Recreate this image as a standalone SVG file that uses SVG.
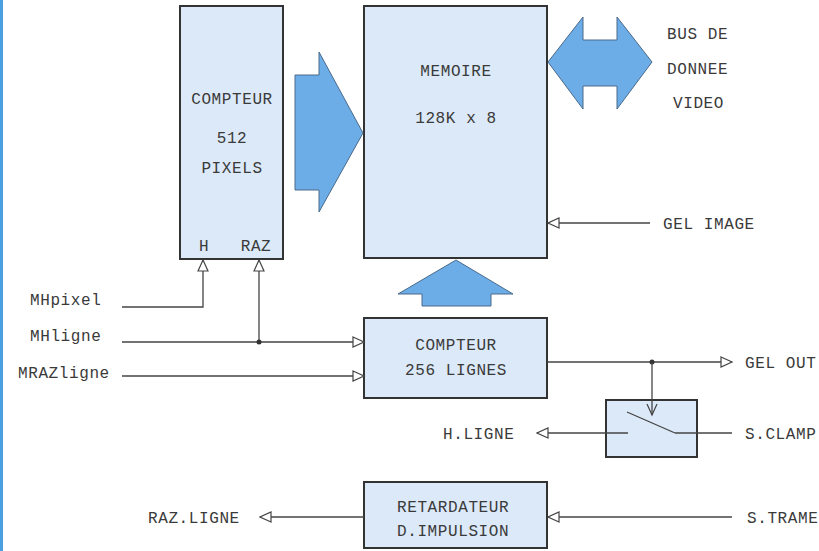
<svg xmlns="http://www.w3.org/2000/svg" width="819" height="551" viewBox="0 0 819 551">
<style>
.box{fill:#dce9f8;stroke:#333;stroke-width:2}
.big{fill:#6cade8;stroke:#4a6a8a;stroke-width:1}
.w{fill:none;stroke:#444;stroke-width:1.3}
text{font-family:"Liberation Mono","DejaVu Sans Mono",monospace;font-size:16px;fill:#3a3a3a;letter-spacing:0.6px}
.m{text-anchor:middle}
</style>
<defs>
<marker id="tri" markerUnits="userSpaceOnUse" markerWidth="14" markerHeight="12" viewBox="-1 -1 13 12" refX="11" refY="5" orient="auto">
<path d="M0,0 L11,5 L0,10 z" fill="#fff" stroke="#444" stroke-width="1.2"/>
</marker>
<marker id="vee" markerUnits="userSpaceOnUse" markerWidth="14" markerHeight="12" viewBox="-1 -1 13 12" refX="11" refY="5" orient="auto">
<path d="M0,0 L11,5 L0,10" fill="none" stroke="#444" stroke-width="1.2"/>
</marker>
</defs>
<rect x="0" y="0" width="3" height="551" fill="#4aa0e0"/>
<g id="compteur512">
<rect class="box" x="180" y="6" width="103" height="253"/>
<text class="m" x="232" y="104">COMPTEUR</text>
<text class="m" x="232" y="143">512</text>
<text class="m" x="232" y="173">PIXELS</text>
<text class="m" x="204" y="251">H</text>
<text class="m" x="256" y="251">RAZ</text>
</g>
<g id="memoire">
<rect class="box" x="364" y="6" width="183" height="252"/>
<text class="m" x="456" y="76">MEMOIRE</text>
<text class="m" x="456" y="123">128K x 8</text>
</g>
<g id="compteur256">
<rect class="box" x="364" y="318" width="183" height="80"/>
<text class="m" x="456" y="350">COMPTEUR</text>
<text class="m" x="456" y="375">256 LIGNES</text>
</g>
<g id="switch">
<rect class="box" x="606" y="400" width="91" height="57"/>
<line class="w" x1="627" y1="412" x2="675" y2="433"/>
</g>
<g id="retardateur">
<rect class="box" x="364" y="482" width="183" height="66"/>
<text x="397" y="512">RETARDATEUR</text>
<text x="397" y="536">D.IMPULSION</text>
</g>
<g id="bus-arrows">
<polygon class="big" points="295,75 319,75 319,52 363,133 319,212 319,190 295,190"/>
<polygon class="big" points="548,62 583,17 583,40 617,40 617,17 652,62 617,109 617,86 583,86 583,109"/>
<polygon class="big" points="456,260 513,294 491,294 491,306 422,306 422,294 398,294"/>
</g>
<g id="labels">
<text x="667" y="39">BUS DE</text>
<text x="667" y="74">DONNEE</text>
<text x="673" y="108">VIDEO</text>
<text x="663" y="229">GEL IMAGE</text>
<text x="30" y="305">MHpixel</text>
<text x="30" y="341">MHligne</text>
<text x="18" y="378">MRAZligne</text>
<text x="745" y="368">GEL OUT</text>
<text x="443" y="439">H.LIGNE</text>
<text x="745" y="439">S.CLAMP</text>
<text x="148" y="523">RAZ.LIGNE</text>
<text x="747" y="523">S.TRAME</text>
</g>
<g id="connectors">
<polyline class="w" points="122,307 203,307 203,260" marker-end="url(#tri)"/>
<line class="w" x1="122" y1="342" x2="364" y2="342" marker-end="url(#tri)"/>
<line class="w" x1="259" y1="342" x2="259" y2="260" marker-end="url(#tri)"/>
<circle cx="259" cy="342" r="2.5" fill="#333"/>
<line class="w" x1="122" y1="376" x2="364" y2="376" marker-end="url(#tri)"/>
<line class="w" x1="650" y1="223" x2="548" y2="223" marker-end="url(#tri)"/>
<line class="w" x1="547" y1="362" x2="732" y2="362" marker-end="url(#tri)"/>
<circle cx="652" cy="362" r="2.5" fill="#333"/>
<line class="w" x1="652" y1="362" x2="652" y2="415" marker-end="url(#vee)"/>
<line class="w" x1="732" y1="433" x2="675" y2="433"/>
<line class="w" x1="628" y1="433" x2="537" y2="433" marker-end="url(#tri)"/>
<line class="w" x1="732" y1="517" x2="548" y2="517" marker-end="url(#tri)"/>
<line class="w" x1="364" y1="517" x2="260" y2="517" marker-end="url(#tri)"/>
</g>
</svg>
